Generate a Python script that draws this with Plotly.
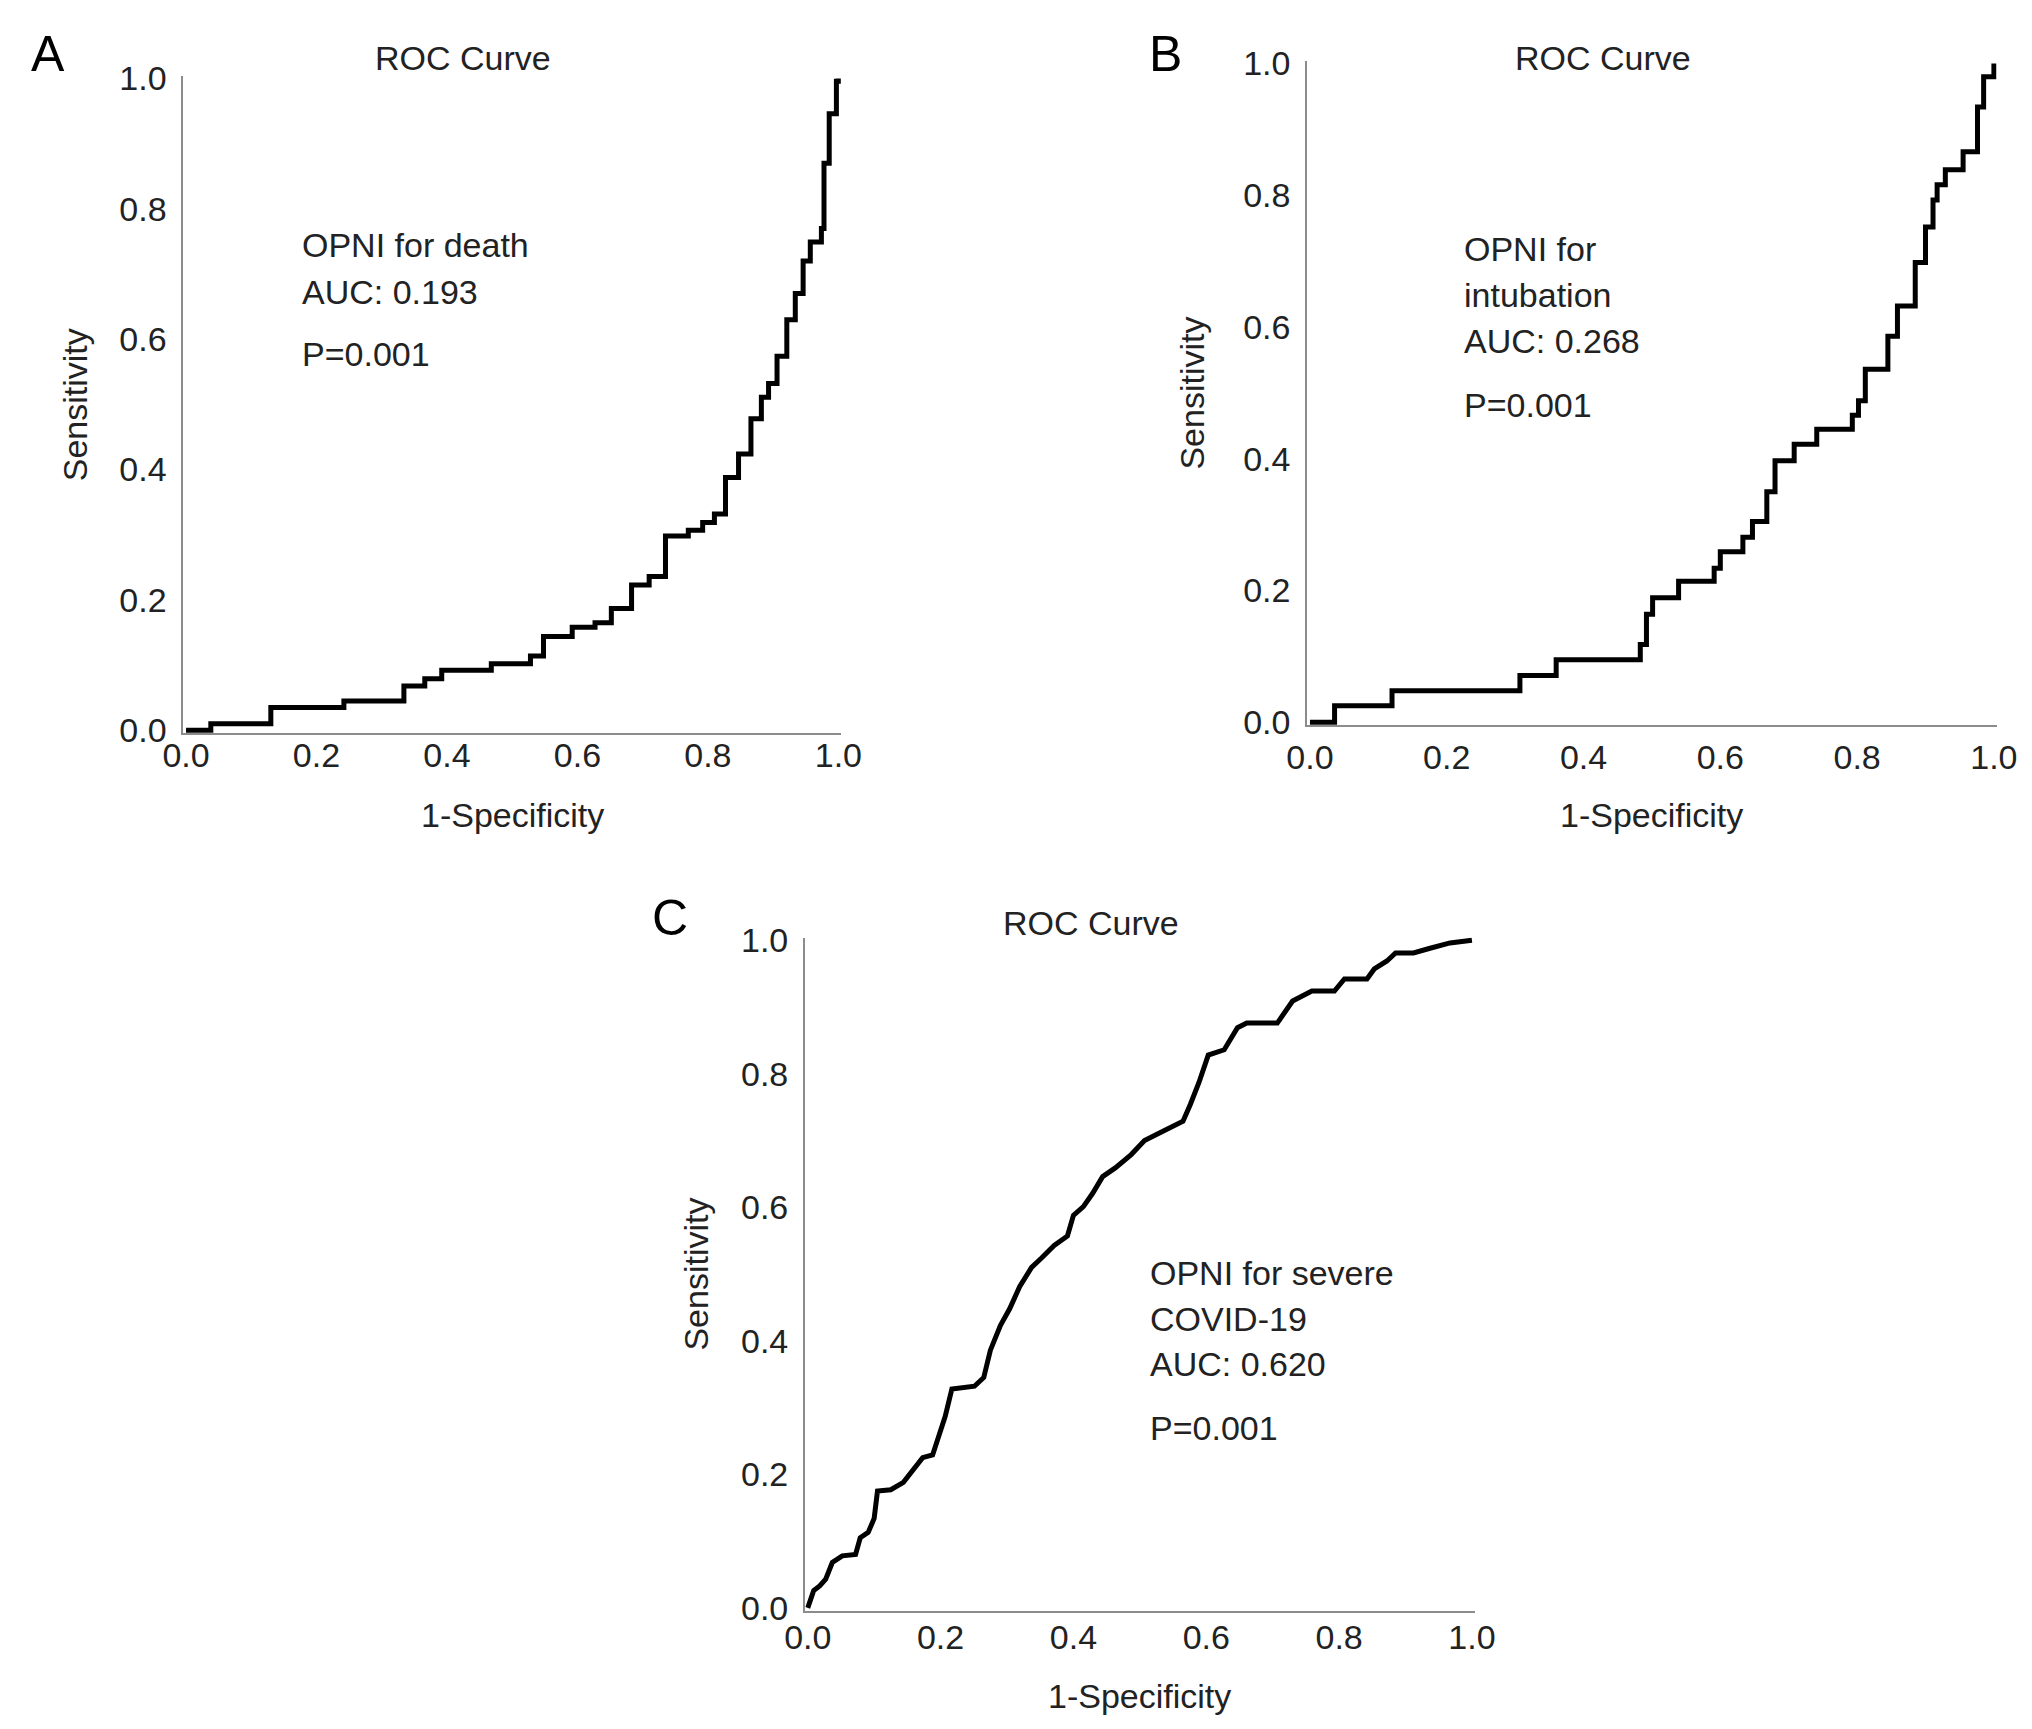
import plotly.graph_objects as go

W, H = 2032, 1729

# ROC curve readings (1-Specificity, Sensitivity)
death_fpr = [0, 0.038, 0.13, 0.242, 0.334, 0.366, 0.392, 0.468, 0.528, 0.548, 0.592, 0.627,
             0.652, 0.683, 0.71, 0.735, 0.77, 0.792, 0.81, 0.827, 0.847, 0.866, 0.882, 0.893,
             0.906, 0.921, 0.934, 0.946, 0.957, 0.974, 0.978, 0.986, 0.997, 1.0]
death_tpr = [0, 0.01, 0.035, 0.045, 0.068, 0.079, 0.092, 0.102, 0.114, 0.144, 0.158, 0.165,
             0.187, 0.223, 0.236, 0.298, 0.307, 0.319, 0.332, 0.388, 0.424, 0.478, 0.511, 0.532,
             0.574, 0.63, 0.67, 0.72, 0.749, 0.77, 0.87, 0.946, 0.996, 1.0]

intub_fpr = [0, 0.036, 0.12, 0.307, 0.36, 0.483, 0.492, 0.501, 0.539, 0.591, 0.6, 0.633,
             0.647, 0.668, 0.68, 0.708, 0.741, 0.793, 0.802, 0.812, 0.845, 0.859, 0.885, 0.9,
             0.911, 0.917, 0.929, 0.955, 0.976, 0.985, 1.0]
intub_tpr = [0, 0.025, 0.048, 0.071, 0.095, 0.118, 0.164, 0.189, 0.214, 0.234, 0.259, 0.281,
             0.305, 0.35, 0.397, 0.422, 0.445, 0.466, 0.488, 0.536, 0.586, 0.632, 0.698, 0.752,
             0.793, 0.816, 0.839, 0.866, 0.934, 0.98, 1.0]

severe_fpr = [0, 0.009, 0.018, 0.027, 0.037, 0.052, 0.072, 0.079, 0.091, 0.1, 0.105, 0.125,
              0.144, 0.159, 0.173, 0.188, 0.197, 0.207, 0.217, 0.251, 0.265, 0.275, 0.29, 0.304,
              0.319, 0.337, 0.352, 0.371, 0.391, 0.4, 0.415, 0.429, 0.444, 0.463, 0.487, 0.507,
              0.531, 0.55, 0.565, 0.576, 0.589, 0.603, 0.627, 0.647, 0.661, 0.707, 0.73, 0.759,
              0.793, 0.808, 0.842, 0.853, 0.872, 0.885, 0.912, 0.937, 0.967, 1.0]
severe_tpr = [0, 0.026, 0.033, 0.043, 0.068, 0.078, 0.08, 0.105, 0.113, 0.134, 0.175, 0.177,
              0.188, 0.208, 0.225, 0.229, 0.258, 0.287, 0.328, 0.332, 0.345, 0.386, 0.423, 0.448,
              0.481, 0.51, 0.524, 0.543, 0.557, 0.588, 0.601, 0.621, 0.646, 0.659, 0.679, 0.7,
              0.712, 0.721, 0.729, 0.754, 0.787, 0.828, 0.836, 0.869, 0.876, 0.876, 0.909, 0.924,
              0.924, 0.942, 0.942, 0.957, 0.969, 0.981, 0.981, 0.988, 0.996, 1.0]

ticks = [0, 0.2, 0.4, 0.6, 0.8, 1.0]
tick_text = ["0.0", "0.2", "0.4", "0.6", "0.8", "1.0"]

FONT = "Liberation Sans, Arial, sans-serif"
TXT = "#222222"
FS = 34

# small correction so the rendered page lines up with the source picture
S, OX, OY = 0.983, 27, 24


def px(x):
    return (x - OX) / S / W


def py(y):
    return 1 - (y - OY) / S / H


# panel boxes in pixels: left, right, bottom (y=0), top (y=1)
panels = {
    "A": dict(box=(182, 842, 734, 76), fpr=death_fpr, tpr=death_tpr, shape="hv",
              notes=[("OPNI for death", 0.745), ("AUC: 0.193", 0.673), ("P=0.001", 0.578)],
              note_x=0.175, title_x=463, title_y=58, letter=(0.0, 1.0, "left", "top"),
              ylab_x=74, xlab_y=816, xstand=-9),
    "B": dict(box=(1310, 2002, 726, 61), fpr=intub_fpr, tpr=intub_tpr, shape="hv",
              notes=[("OPNI for", 0.719), ("intubation", 0.648), ("AUC: 0.268", 0.579),
                     ("P=0.001", 0.482)],
              note_x=0.223, title_x=1607, title_y=58, letter=(px(1168), 1.0, "center", "top"),
              ylab_x=1194, xlab_y=816, xstand=1),
    "C": dict(box=(806, 1478, 1613, 939), fpr=severe_fpr, tpr=severe_tpr, shape="linear",
              notes=[("OPNI for severe", 0.502), ("COVID-19", 0.433), ("AUC: 0.620", 0.365),
                     ("P=0.001", 0.269)],
              note_x=0.512, title_x=1093, title_y=924,
              letter=(px(670), py(919), "center", "middle"),
              ylab_x=697, xlab_y=1699, xstand=-4),
}

fig = go.Figure()
annotations = []

for i, (name, p) in enumerate(panels.items(), start=1):
    l, r, b, t = p["box"]
    xa = "x" if i == 1 else f"x{i}"
    ya = "y" if i == 1 else f"y{i}"
    fig.add_trace(go.Scatter(x=p["fpr"], y=p["tpr"], mode="lines",
                             line=dict(color="black", width=5, shape=p["shape"]),
                             xaxis=xa, yaxis=ya, showlegend=False, hoverinfo="skip"))
    axis_common = dict(range=[-0.004, 1.004], showgrid=False, zeroline=False,
                       showline=True, linecolor="#8c8c8c", linewidth=2,
                       tickvals=ticks, ticktext=tick_text, ticks="",
                       tickfont=dict(family=FONT, size=FS, color=TXT), fixedrange=True)
    fig.update_layout(**{
        ("xaxis" if i == 1 else f"xaxis{i}"): dict(axis_common, domain=[px(l), px(r)],
                                                   anchor=ya, ticklabelstandoff=p["xstand"]),
        ("yaxis" if i == 1 else f"yaxis{i}"): dict(axis_common, domain=[py(b), py(t)],
                                                   anchor=xa, ticklabelstandoff=8),
    })
    # notes inside the plot
    for text, yv in p["notes"]:
        annotations.append(dict(xref=xa, yref=ya, x=p["note_x"], y=yv, text=text,
                                showarrow=False, xanchor="left", yanchor="middle",
                                font=dict(family=FONT, size=FS, color=TXT)))
    # title
    annotations.append(dict(xref="paper", yref="paper", x=px(p["title_x"]), y=py(p["title_y"]),
                            text="ROC Curve", showarrow=False, xanchor="center",
                            yanchor="middle", font=dict(family=FONT, size=FS, color=TXT)))
    # panel letter
    lx, ly, lxa, lya = p["letter"]
    annotations.append(dict(xref="paper", yref="paper", x=lx, y=ly, text=name,
                            showarrow=False, xanchor=lxa, yanchor=lya,
                            font=dict(family=FONT, size=50, color="black")))
    # axis titles
    annotations.append(dict(xref="paper", yref="paper", x=px(p["ylab_x"]), y=py((b + t) / 2),
                            text="Sensitivity", textangle=-90, showarrow=False,
                            xanchor="center", yanchor="middle",
                            font=dict(family=FONT, size=FS, color=TXT)))
    annotations.append(dict(xref="paper", yref="paper", x=px((l + r) / 2), y=py(p["xlab_y"]),
                            text="1-Specificity", showarrow=False,
                            xanchor="center", yanchor="middle",
                            font=dict(family=FONT, size=FS, color=TXT)))

fig.update_layout(width=W, height=H, margin=dict(l=0, r=0, t=0, b=0),
                  paper_bgcolor="white", plot_bgcolor="white",
                  annotations=annotations)

fig.write_html("out.html")
